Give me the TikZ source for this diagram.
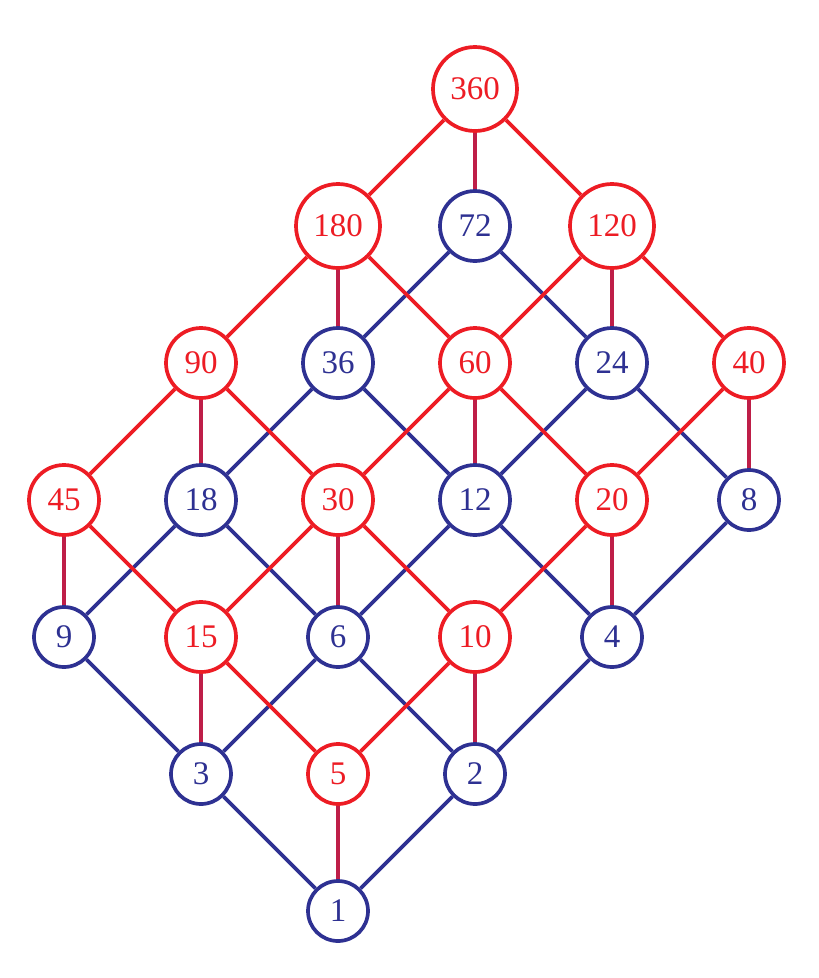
\documentclass[tikz,border=0pt]{standalone}
\usepackage{fontspec}
\setmainfont{Liberation Serif}
\definecolor{lred}{RGB}{237,28,36}
\definecolor{lblue}{RGB}{46,49,146}
\definecolor{lmar}{RGB}{190,30,72}
\tikzset{
  vtx/.style={circle,draw,line width=3.7pt,fill=white,inner sep=0pt,font=\fontsize{33}{38}\selectfont},
  one/.style={vtx,minimum size=60pt},
  two/.style={vtx,minimum size=70pt},
  three/.style={vtx,minimum size=84pt},
  rn/.style={draw=lred,text=lred},
  bn/.style={draw=lblue,text=lblue},
  be/.style={draw=lblue,line width=3.7pt},
  re/.style={draw=lred,line width=3.7pt},
  me/.style={draw=lmar,line width=3.7pt},
}
\begin{document}
\begin{tikzpicture}[x=1pt,y=-1pt]
\useasboundingbox (0,0) rectangle (819,978);
% nodes
\node[one,bn] (n1) at (338,911) {1};
\node[one,bn] (n3) at (201,774) {3};
\node[one,rn] (n5) at (338,774) {5};
\node[one,bn] (n2) at (475,774) {2};
\node[one,bn] (n9) at (64,637) {9};
\node[two,rn] (n15) at (201,637) {15};
\node[one,bn] (n6) at (338,637) {6};
\node[two,rn] (n10) at (475,637) {10};
\node[one,bn] (n4) at (612,637) {4};
\node[two,rn] (n45) at (64,500) {45};
\node[two,bn] (n18) at (201,500) {18};
\node[two,rn] (n30) at (338,500) {30};
\node[two,bn] (n12) at (475,500) {12};
\node[two,rn] (n20) at (612,500) {20};
\node[one,bn] (n8) at (749,500) {8};
\node[two,rn] (n90) at (201,363) {90};
\node[two,bn] (n36) at (338,363) {36};
\node[two,rn] (n60) at (475,363) {60};
\node[two,bn] (n24) at (612,363) {24};
\node[two,rn] (n40) at (749,363) {40};
\node[three,rn] (n180) at (338,226) {180};
\node[two,bn] (n72) at (475,226) {72};
\node[three,rn] (n120) at (612,226) {120};
\node[three,rn] (n360) at (475,89) {360};
% blue edges
\foreach \a/\b in {1/3,1/2,3/9,3/6,2/6,2/4,9/18,6/18,6/12,4/12,4/8,18/36,12/36,12/24,8/24,36/72,24/72}
  \draw[be] (n\a) -- (n\b);
% red edges
\foreach \a/\b in {5/15,5/10,15/45,15/30,10/30,10/20,45/90,30/90,30/60,20/60,20/40,90/180,60/180,60/120,40/120,180/360,120/360}
  \draw[re] (n\a) -- (n\b);
% maroon edges
\foreach \a/\b in {1/5,3/15,2/10,9/45,6/30,4/20,18/90,12/60,8/40,36/180,24/120,72/360}
  \draw[me] (n\a) -- (n\b);
\end{tikzpicture}
\end{document}
